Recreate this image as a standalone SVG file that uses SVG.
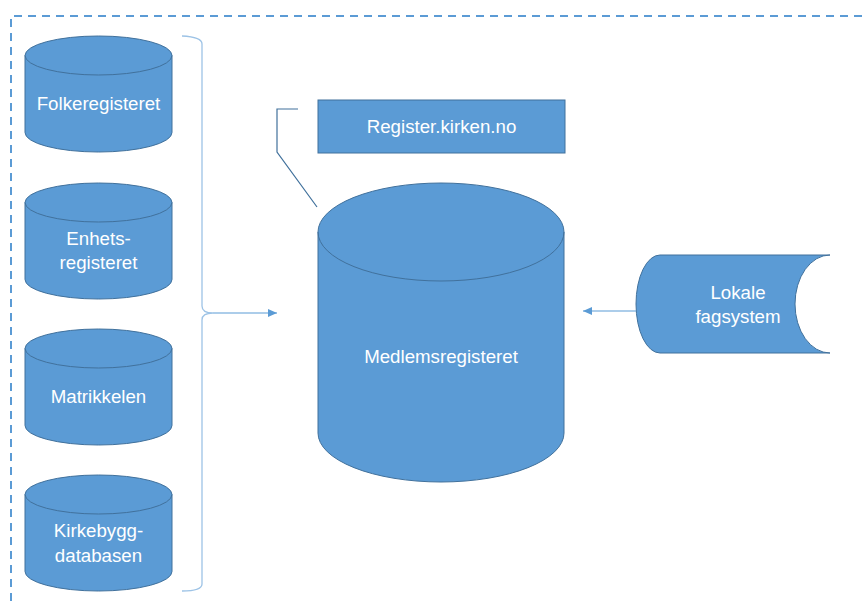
<svg xmlns="http://www.w3.org/2000/svg" width="863" height="601" viewBox="0 0 863 601">
  <style>
    .shape { fill: #5B9BD5; stroke: #41719C; stroke-width: 1; }
    .rim { fill: none; stroke: #41719C; stroke-width: 1; }
    .lbl { font-family: "Liberation Sans", Arial, sans-serif; font-size: 18.7px; fill: #FFFFFF; text-anchor: middle; }
    .conn { fill: none; stroke: #5B9BD5; stroke-width: 1.2; }
    .brace { fill: none; stroke: #9DC3E6; stroke-width: 1.3; }
    .callout { fill: none; stroke: #41719C; stroke-width: 1.2; }
    .frame { fill: none; stroke: #5B9BD5; stroke-width: 2; stroke-dasharray: 8 6; }
  </style>
  <defs>
    <marker id="arrow" markerUnits="userSpaceOnUse" markerWidth="10" markerHeight="8" refX="9" refY="4" orient="auto">
      <path d="M0,0 L9,4 L0,8 Z" fill="#5B9BD5"/>
    </marker>
    <path id="cylSmall" d="M0,19.5 A73.5,19.5 0 0 1 147,19.5 V96.5 A73.5,19.5 0 0 1 0,96.5 Z"/>
  </defs>

  <rect width="863" height="601" fill="#FFFFFF"/>
  <path class="frame" d="M11,601 V16 H863"/>

  <g id="folkeregisteret" transform="translate(25,36)">
    <use href="#cylSmall" class="shape"/>
    <path class="rim" d="M0,19.5 A73.5,19.5 0 0 0 147,19.5"/>
    <text class="lbl" x="73.5" y="74">Folkeregisteret</text>
  </g>

  <g id="enhetsregisteret" transform="translate(25,183)">
    <use href="#cylSmall" class="shape"/>
    <path class="rim" d="M0,19.5 A73.5,19.5 0 0 0 147,19.5"/>
    <text class="lbl" x="73.5" y="62">Enhets-</text>
    <text class="lbl" x="73.5" y="86">registeret</text>
  </g>

  <g id="matrikkelen" transform="translate(25,329)">
    <use href="#cylSmall" class="shape"/>
    <path class="rim" d="M0,19.5 A73.5,19.5 0 0 0 147,19.5"/>
    <text class="lbl" x="73.5" y="74">Matrikkelen</text>
  </g>

  <g id="kirkebyggdatabasen" transform="translate(25,475)">
    <use href="#cylSmall" class="shape"/>
    <path class="rim" d="M0,19.5 A73.5,19.5 0 0 0 147,19.5"/>
    <text class="lbl" x="73.5" y="62">Kirkebygg-</text>
    <text class="lbl" x="73.5" y="87">databasen</text>
  </g>

  <g id="register-kirken">
    <rect class="shape" x="318" y="100" width="247" height="53"/>
    <text class="lbl" x="441.5" y="133">Register.kirken.no</text>
  </g>

  <g id="medlemsregisteret">
    <path class="shape" d="M318,232 A123,49 0 0 1 564,232 V433 A123,49 0 0 1 318,433 Z"/>
    <path class="rim" d="M318,232 A123,49 0 0 0 564,232"/>
    <text class="lbl" x="441" y="363">Medlemsregisteret</text>
  </g>

  <g id="lokale-fagsystem">
    <path class="shape" d="M660,255 H830 A35,49 0 0 0 830,353 H660 A24,49 0 0 1 660,255 Z"/>
    <text class="lbl" x="738" y="299">Lokale</text>
    <text class="lbl" x="738" y="323">fagsystem</text>
  </g>

  <g id="connectors">
    <path class="brace" d="M182,36 Q202,37 202,44 V306 Q202,313 213,313 Q202,313 202,320 V584 Q202,591 182,591"/>
    <path class="conn" d="M213,313 L277,313" marker-end="url(#arrow)"/>
    <path class="conn" d="M636,311 L583,311" marker-end="url(#arrow)"/>
    <polyline class="callout" points="298,109 277,109 277,152 317,207"/>
  </g>
</svg>
